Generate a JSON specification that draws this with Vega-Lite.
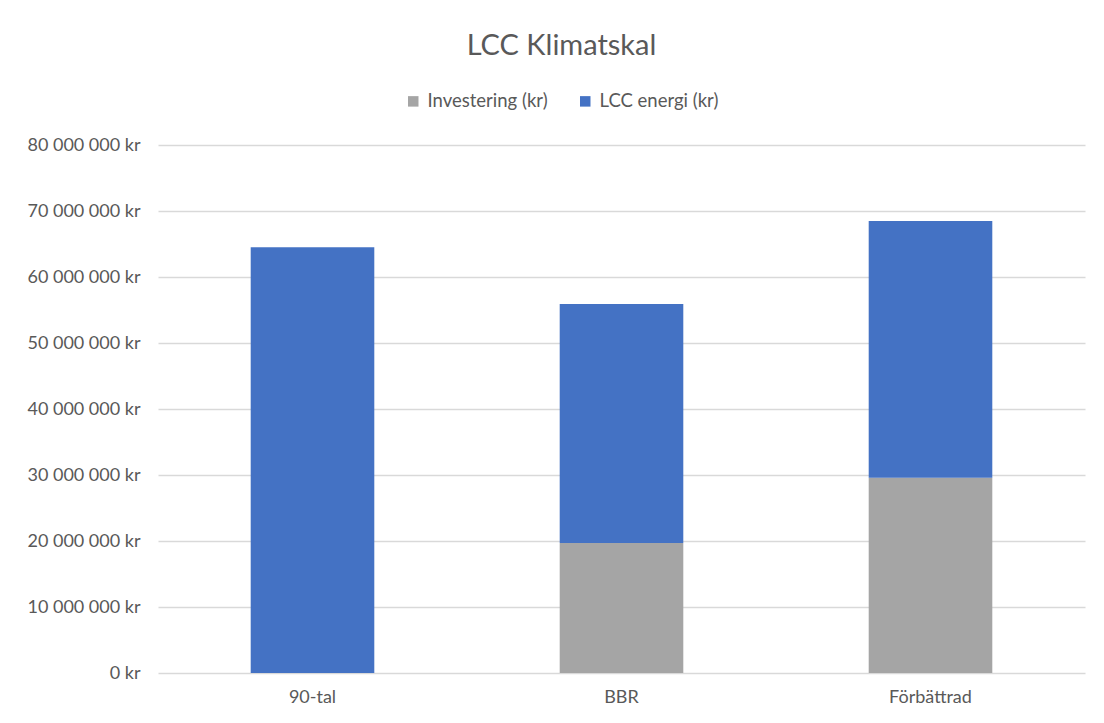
{
  "$schema": "https://vega.github.io/schema/vega-lite/v6.json",
  "width": 927,
  "height": 528,
  "autosize": {"type": "none"},
  "padding": {"left": 158, "top": 145, "right": 19, "bottom": 50},
  "background": "white",
  "title": {
    "text": "LCC Klimatskal",
    "font": "Lato",
    "fontSize": 29,
    "fontWeight": "normal",
    "color": "#595959",
    "anchor": "middle",
    "dx": -60,
    "offset": 31
  },
  "data": {
    "values": [
      {"kategori": "90-tal", "serie": "Investering (kr)", "varde": 0},
      {"kategori": "90-tal", "serie": "LCC energi (kr)", "varde": 64500000},
      {"kategori": "BBR", "serie": "Investering (kr)", "varde": 19700000},
      {"kategori": "BBR", "serie": "LCC energi (kr)", "varde": 36200000},
      {"kategori": "Förbättrad", "serie": "Investering (kr)", "varde": 29600000},
      {"kategori": "Förbättrad", "serie": "LCC energi (kr)", "varde": 38900000}
    ]
  },
  "mark": {"type": "bar"},
  "encoding": {
    "x": {
      "field": "kategori",
      "type": "nominal",
      "sort": ["90-tal", "BBR", "Förbättrad"],
      "scale": {"paddingInner": 0.6, "paddingOuter": 0.3},
      "axis": {
        "title": null,
        "labelAngle": 0,
        "labelFont": "Lato",
        "labelFontSize": 18,
        "labelColor": "#595959",
        "labelPadding": 15,
        "ticks": false,
        "domain": false,
        "grid": false
      }
    },
    "y": {
      "field": "varde",
      "type": "quantitative",
      "stack": "zero",
      "scale": {"domain": [0, 80000000], "nice": false},
      "axis": {
        "title": null,
        "values": [0, 10000000, 20000000, 30000000, 40000000, 50000000, 60000000, 70000000, 80000000],
        "labelExpr": "replace(format(datum.value, ',.0f'), /,/g, ' ') + ' kr'",
        "labelFont": "Lato",
        "labelFontSize": 18,
        "labelColor": "#595959",
        "labelPadding": 18,
        "ticks": false,
        "domain": false,
        "grid": true,
        "gridColor": "#d9d9d9",
        "gridWidth": 1.3
      }
    },
    "color": {
      "field": "serie",
      "type": "nominal",
      "scale": {"domain": ["Investering (kr)", "LCC energi (kr)"], "range": ["#a5a5a5", "#4472c4"]},
      "legend": {
        "title": null,
        "orient": "none",
        "direction": "horizontal",
        "legendX": 246,
        "legendY": -53,
        "symbolType": "square",
        "symbolSize": 110,
        "symbolStrokeWidth": 0,
        "labelFont": "Lato",
        "labelFontSize": 18.5,
        "labelColor": "#595959",
        "labelOffset": 5,
        "columnPadding": 28
      }
    },
    "order": {"field": "serie", "sort": "ascending"}
  },
  "config": {
    "view": {"stroke": null}
  }
}
